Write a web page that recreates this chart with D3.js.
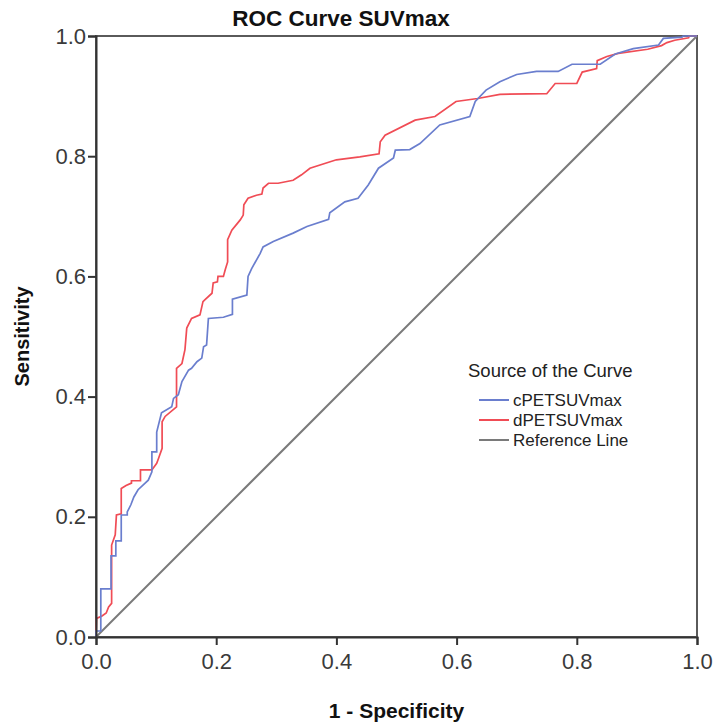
<!DOCTYPE html>
<html>
<head>
<meta charset="utf-8">
<script src="https://cdn.jsdelivr.net/npm/d3@7"></script>
<style>
  html, body { margin: 0; padding: 0; background: #fff; }
  svg { display: block; font-family: "Liberation Sans", Arial, sans-serif; }
</style>
</head>
<body>
<svg id="chart" width="716" height="726"></svg>
<script>
// ---- data (1 - specificity, sensitivity) ----
const cPETx = [0,0,0.008,0.008,0.025,0.025,0.033,0.033,0.042,0.042,0.052,0.052,0.058,0.063,0.070,0.087,0.093,0.093,0.101,0.101,0.109,0.126,0.129,0.137,0.143,0.154,0.159,0.168,0.176,0.179,0.184,0.187,0.212,0.227,0.227,0.251,0.253,0.259,0.273,0.278,0.295,0.328,0.351,0.387,0.389,0.414,0.436,0.453,0.470,0.495,0.498,0.522,0.539,0.572,0.622,0.631,0.649,0.672,0.700,0.733,0.769,0.792,0.839,0.864,0.894,0.936,0.944,0.975,0.977,1.0];
const cPETy = [0,0.010,0.010,0.080,0.080,0.135,0.135,0.160,0.160,0.203,0.203,0.208,0.220,0.233,0.245,0.261,0.275,0.308,0.308,0.341,0.373,0.383,0.397,0.403,0.425,0.444,0.447,0.458,0.464,0.483,0.486,0.530,0.532,0.537,0.562,0.569,0.600,0.613,0.638,0.649,0.658,0.672,0.683,0.695,0.706,0.724,0.730,0.752,0.780,0.797,0.810,0.811,0.821,0.852,0.866,0.891,0.910,0.924,0.936,0.941,0.941,0.953,0.953,0.970,0.979,0.985,0.996,0.998,1.0,1.0];
const dPETx = [0,0.001,0.010,0.017,0.021,0.026,0.026,0.032,0.034,0.042,0.042,0.050,0.059,0.059,0.074,0.074,0.093,0.101,0.104,0.110,0.110,0.115,0.134,0.134,0.143,0.148,0.151,0.159,0.173,0.178,0.181,0.193,0.195,0.202,0.203,0.212,0.215,0.219,0.219,0.226,0.240,0.245,0.246,0.253,0.267,0.276,0.278,0.287,0.303,0.328,0.342,0.356,0.400,0.439,0.471,0.473,0.481,0.531,0.564,0.599,0.635,0.672,0.750,0.764,0.800,0.809,0.833,0.834,0.850,0.869,0.918,0.941,0.950,0.963,0.986,0.987,1.0];
const dPETy = [0,0.031,0.035,0.040,0.050,0.056,0.153,0.170,0.203,0.205,0.247,0.252,0.256,0.260,0.260,0.278,0.278,0.289,0.297,0.314,0.358,0.367,0.383,0.447,0.455,0.478,0.514,0.530,0.536,0.558,0.561,0.572,0.589,0.591,0.600,0.600,0.611,0.624,0.661,0.677,0.694,0.702,0.719,0.730,0.735,0.737,0.747,0.755,0.755,0.760,0.769,0.780,0.794,0.799,0.804,0.824,0.835,0.860,0.866,0.891,0.896,0.903,0.904,0.921,0.921,0.940,0.946,0.959,0.966,0.971,0.978,0.984,0.989,0.993,0.997,1.0,1.0];
const refX = [0, 1];
const refY = [0, 1];
const tickValues = [0, 0.2, 0.4, 0.6, 0.8, 1.0];
const legendLabels = ["cPETSUVmax", "dPETSUVmax", "Reference Line"];
const seriesColors = ["#6a7ece", "#f04c55", "#7a7a7a"];

// ---- layout ----
const svg = d3.select("#chart");
const L = 96, R = 697, T = 36, B = 637;
const x = d3.scaleLinear().domain([0, 1]).range([L, R]);
const y = d3.scaleLinear().domain([0, 1]).range([B, T]);

// frame
svg.append("rect")
  .attr("x", L).attr("y", T).attr("width", R - L).attr("height", B - T)
  .attr("fill", "none").attr("stroke", "#5a5a5a").attr("stroke-width", 2);

const line = d3.line().x(d => x(d[0])).y(d => y(d[1]));
const zip = (a, b) => a.map((v, i) => [v, b[i]]);

// reference line
svg.append("path").datum(zip(refX, refY)).attr("d", line)
  .attr("fill", "none").attr("stroke", seriesColors[2]).attr("stroke-width", 2);
// curves
svg.append("path").datum(zip(dPETx, dPETy)).attr("d", line)
  .attr("fill", "none").attr("stroke", seriesColors[1]).attr("stroke-width", 1.7);
svg.append("path").datum(zip(cPETx, cPETy)).attr("d", line)
  .attr("fill", "none").attr("stroke", seriesColors[0]).attr("stroke-width", 1.7);

// axes
const fmt = d3.format(".1f");
const xAxis = svg.append("g").attr("transform", `translate(0,${B})`)
  .call(d3.axisBottom(x).tickValues(tickValues).tickFormat(fmt).tickSize(8).tickPadding(8));
const yAxis = svg.append("g").attr("transform", `translate(${L},0)`)
  .call(d3.axisLeft(y).tickValues(tickValues).tickFormat(fmt).tickSize(8).tickPadding(2));
[xAxis, yAxis].forEach(g => {
  g.select(".domain").attr("stroke", "#333").attr("stroke-width", 2);
  g.selectAll(".tick line").attr("stroke", "#333").attr("stroke-width", 2);
  g.selectAll(".tick text").attr("fill", "#3a3a3a")
    .style("font-size", "22px").style("font-family", "'Liberation Sans', Arial, sans-serif");
});

// titles
svg.append("text").attr("x", 341).attr("y", 26).attr("text-anchor", "middle")
  .style("font-size", "22.5px").style("font-weight", "bold").attr("fill", "#111")
  .text("ROC Curve SUVmax");
svg.append("text").attr("x", (L + R) / 2).attr("y", 718).attr("text-anchor", "middle")
  .style("font-size", "21px").style("font-weight", "bold").attr("fill", "#111")
  .text("1 - Specificity");
svg.append("text").attr("transform", `translate(29,${(T + B) / 2}) rotate(-90)`)
  .attr("text-anchor", "middle")
  .style("font-size", "20px").style("font-weight", "bold").attr("fill", "#111")
  .text("Sensitivity");

// legend
const lg = svg.append("g");
lg.append("text").attr("x", 468).attr("y", 377)
  .style("font-size", "18.5px").attr("fill", "#222").text("Source of the Curve");
legendLabels.forEach((lab, i) => {
  const yy = 400 + i * 20;
  lg.append("line").attr("x1", 479).attr("x2", 509).attr("y1", yy).attr("y2", yy)
    .attr("stroke", seriesColors[i]).attr("stroke-width", 2);
  lg.append("text").attr("x", 513).attr("y", yy + 6)
    .style("font-size", "17px").attr("fill", "#222").text(lab);
});
</script>
</body>
</html>
